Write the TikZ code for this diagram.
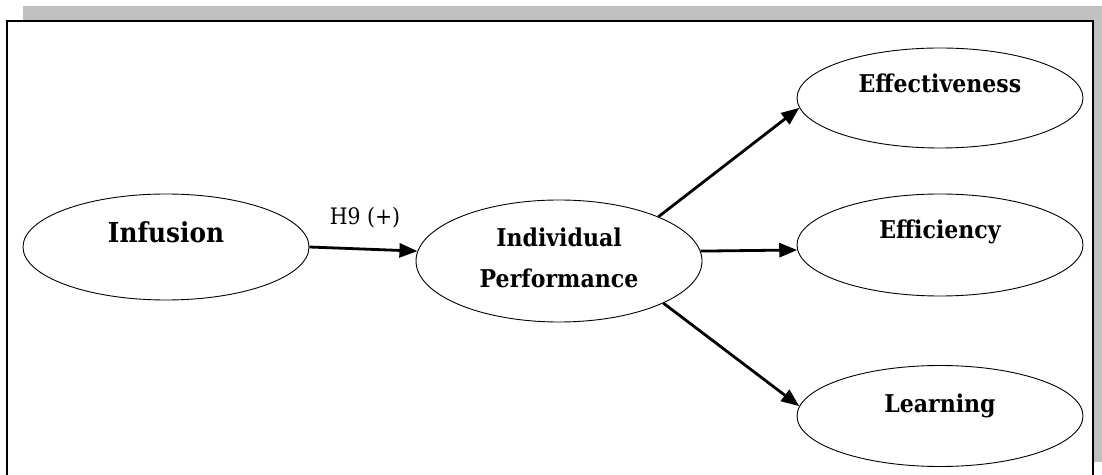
\documentclass[tikz,border=0pt]{standalone}
\usepackage{fontspec}
\setmainfont{DejaVu Serif}[FakeStretch=0.9]
\usetikzlibrary{arrows.meta,shapes.geometric}
\definecolor{shadowgray}{RGB}{192,192,192}
\begin{document}
\begin{tikzpicture}[x=1pt,y=1pt,
  oval/.style={ellipse,draw,line width=0.9pt,inner sep=0pt,minimum width=286pt},
  lbl/.style={anchor=base,inner sep=0pt,font=\fontsize{24.5}{29}\selectfont\bfseries},
  biglbl/.style={lbl,font=\fontsize{27.5}{32}\selectfont\bfseries},
  note/.style={anchor=base,inner sep=0pt,font=\fontsize{22.7}{27}\selectfont},
  link/.style={line width=2.8pt,-{Triangle[length=18pt,width=14pt]}}]
\useasboundingbox (0,0) rectangle (1102,474);
% drop shadow and framed panel
\fill[shadowgray] (23,12) rectangle (1102,468);
\draw[fill=white,line width=1.7pt] (7,-10) rectangle (1093,453);

% constructs
\node[oval,minimum height=106pt] (inf)  at (166,227) {};
\node[oval,minimum height=122pt] (ip)   at (559,213) {};
\node[oval,minimum height=100pt] (eff)  at (940,376) {};
\node[oval,minimum height=102pt] (effi) at (940,229) {};
\node[oval,minimum height=101pt] (lrn)  at (940,58)  {};

% captions
\node[biglbl] (inftext) at (166,231) {Infusion};
\node[lbl] (iptext1)  at (559,227) {Individual};
\node[lbl] (iptext2)  at (559,186) {Performance};
\node[lbl] (efftext)  at (940,381) {Effectiveness};
\node[lbl] (effitext) at (940,235) {Efficiency};
\node[lbl] (lrntext)  at (940,62)  {Learning};

% paths
\draw[link] (inf.east) -- (ip.176);
\node[note] (h9) at (365,249) {H9 (+)};
\draw[link] (ip.24) -- (eff.184);
\draw[link] (ip.4) -- (effi.182);
\draw[link] (ip.-22) -- (lrn.176);
\end{tikzpicture}
\end{document}
